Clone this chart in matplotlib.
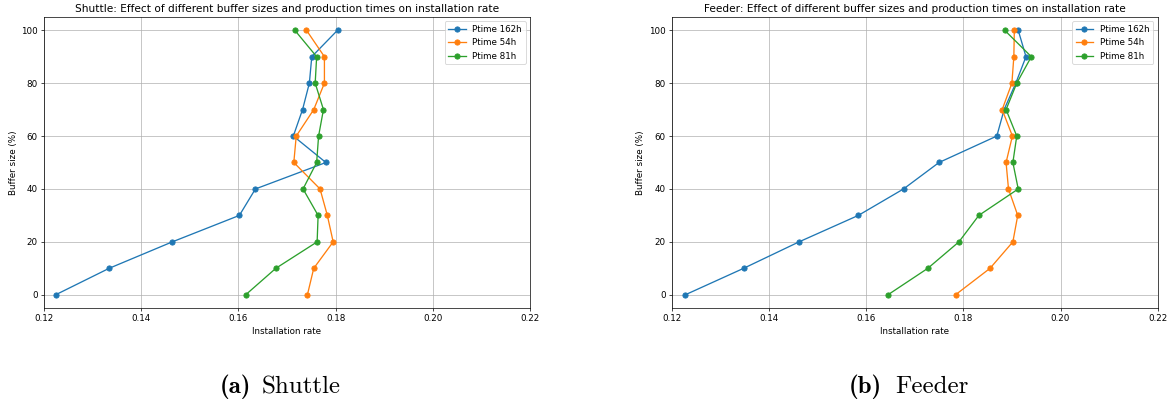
import matplotlib
matplotlib.use("Agg")
import matplotlib.pyplot as plt

# buffer sizes (%) on the y axis
buffer_sizes = [0, 10, 20, 30, 40, 50, 60, 70, 80, 90, 100]

# Shuttle installation rates
shuttle_162 = [0.1224, 0.1334, 0.1464, 0.1602, 0.1635, 0.1780, 0.1713, 0.1732, 0.1746, 0.1751, 0.1804]
shuttle_54 = [0.1742, 0.1755, 0.1795, 0.1783, 0.1768, 0.1714, 0.1719, 0.1755, 0.1777, 0.1777, 0.1740]
shuttle_81 = [0.1615, 0.1677, 0.1762, 0.1764, 0.1733, 0.1761, 0.1765, 0.1775, 0.1758, 0.1761, 0.1716]

# Feeder installation rates
feeder_162 = [0.1228, 0.1348, 0.1462, 0.1584, 0.1677, 0.1750, 0.1869, 0.1884, 0.1908, 0.1929, 0.1913]
feeder_54 = [0.1784, 0.1855, 0.1902, 0.1912, 0.1893, 0.1888, 0.1901, 0.1880, 0.1900, 0.1904, 0.1905]
feeder_81 = [0.1645, 0.1727, 0.1791, 0.1832, 0.1913, 0.1902, 0.1910, 0.1888, 0.1910, 0.1940, 0.1885]

labels = ["Ptime 162h", "Ptime 54h", "Ptime 81h"]

dpi = 63
fig = plt.figure(figsize=(1174 / dpi, 405 / dpi), dpi=dpi)

ax1 = fig.add_axes([44 / 1174, 1 - 308 / 405, 486 / 1174, 291 / 405])
ax2 = fig.add_axes([671.7 / 1174, 1 - 308 / 405, 486 / 1174, 291 / 405])

for ax, name, series in [
    (ax1, "Shuttle", [shuttle_162, shuttle_54, shuttle_81]),
    (ax2, "Feeder", [feeder_162, feeder_54, feeder_81]),
]:
    for vals, lab in zip(series, labels):
        ax.plot(vals, buffer_sizes, marker="o", label=lab)
    ax.set_xlim(0.12, 0.22)
    ax.set_xlabel("Installation rate")
    ax.set_ylabel("Buffer size (%)")
    ax.set_title(name + ": Effect of different buffer sizes and production times on installation rate")
    ax.grid(True)
    ax.legend(loc="upper right")

# subfigure captions, bold label + roman name like the latex subcaption
yb = 1 - 393 / 405
fig.text(251 / 1174, yb, "(a)", family="cmb10", ha="right", va="baseline", fontsize=28.5)
fig.text(262 / 1174, yb, "Shuttle", family="cmr10", ha="left", va="baseline", fontsize=28.5)
fig.text(882 / 1174, yb, "(b)", family="cmb10", ha="right", va="baseline", fontsize=28.5)
fig.text(895 / 1174, yb, "Feeder", family="cmr10", ha="left", va="baseline", fontsize=28.5)

fig.savefig("out.png", dpi=dpi)
